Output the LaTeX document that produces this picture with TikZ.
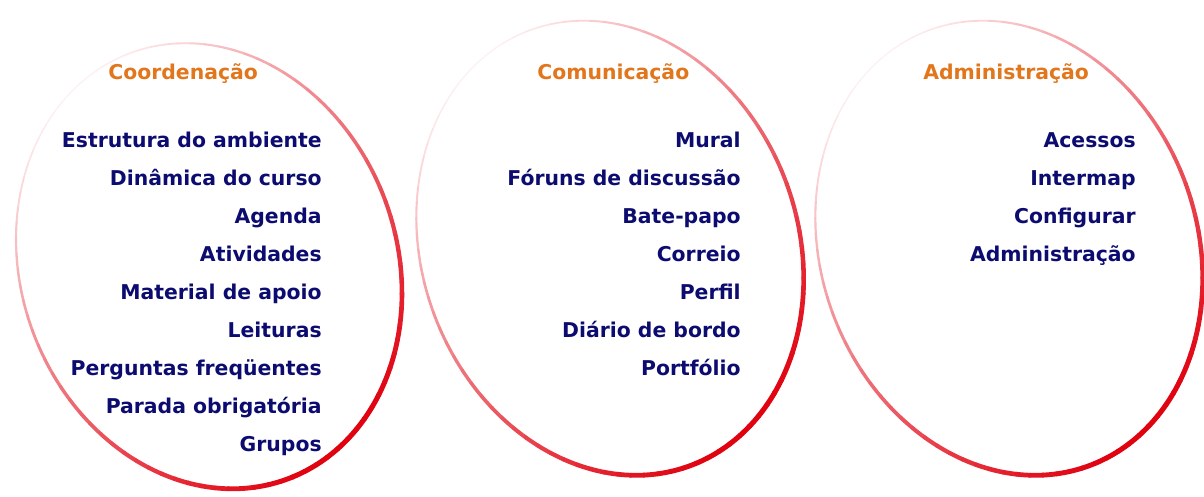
\documentclass[tikz,border=0pt]{standalone}
\usepackage{fontspec}
\setmainfont{DejaVu Sans}
\usepackage{xcolor}
\definecolor{anelred}{RGB}{224,0,14}
\definecolor{tituloorange}{RGB}{226,118,28}
\definecolor{itemblue}{RGB}{12,12,112}

\begin{document}
\begin{tikzpicture}[x=0.02cm, y=0.02cm,
    titulo/.style={anchor=base west, inner sep=0pt, text=tituloorange,
      font=\fontsize{11.6}{14}\selectfont\bfseries},
    item/.style={anchor=base east, inner sep=0pt, text=itemblue,
      font=\fontsize{11.6}{14}\selectfont\bfseries}]
    \useasboundingbox (0,0) rectangle (1204,497);

    % Rings, light at the upper left, strong red at the lower right
    \foreach \cx/\cy/\ry in {209/231/227, 610/249/232, 1009/249/232}{
        \begin{scope}[shift={(\cx,\cy)}, rotate=20]
            \pgfmathsetmacro\ryc{\ry*0.02}
            \foreach \t in {0,4,...,356}{
                \pgfmathsetmacro\f{((1-cos(\t+2-110))/2)^0.85}
                \pgfmathtruncatemacro\p{5+95*\f}
                \pgfmathsetmacro\w{0.8+2.1*\f}
                \draw[line cap=round, line width=\w pt, anelred!\p!white]
                    ({188*cos(\t)},{\ry*sin(\t)}) arc[start angle=\t, end angle=\t+4, x radius=3.76cm, y radius=\ryc cm];
            }
        \end{scope}
    }

    % Coordenação
    \node[titulo] (coordenacao) at (108,417) {Coordenação};
    \foreach \txt [count=\i] in {Estrutura do ambiente, Dinâmica do curso, Agenda,
        Atividades, Material de apoio, Leituras, Perguntas freqüentes,
        Parada obrigatória, Grupos}
        \node[item] (coordenacao-\i) at (322,{387-38*\i}) {\txt};

    % Comunicação
    \node[titulo] (comunicacao) at (537,417) {Comunicação};
    \foreach \txt [count=\i] in {Mural, Fóruns de discussão, Bate-papo, Correio,
        Perfil, Diário de bordo, Portfólio}
        \node[item] (comunicacao-\i) at (741,{387-38*\i}) {\txt};

    % Administração
    \node[titulo] (administracao) at (923,417) {Administração};
    \foreach \txt [count=\i] in {Acessos, Intermap, Configurar, Administração}
        \node[item] (administracao-\i) at (1136,{387-38*\i}) {\txt};
\end{tikzpicture}
\end{document}
